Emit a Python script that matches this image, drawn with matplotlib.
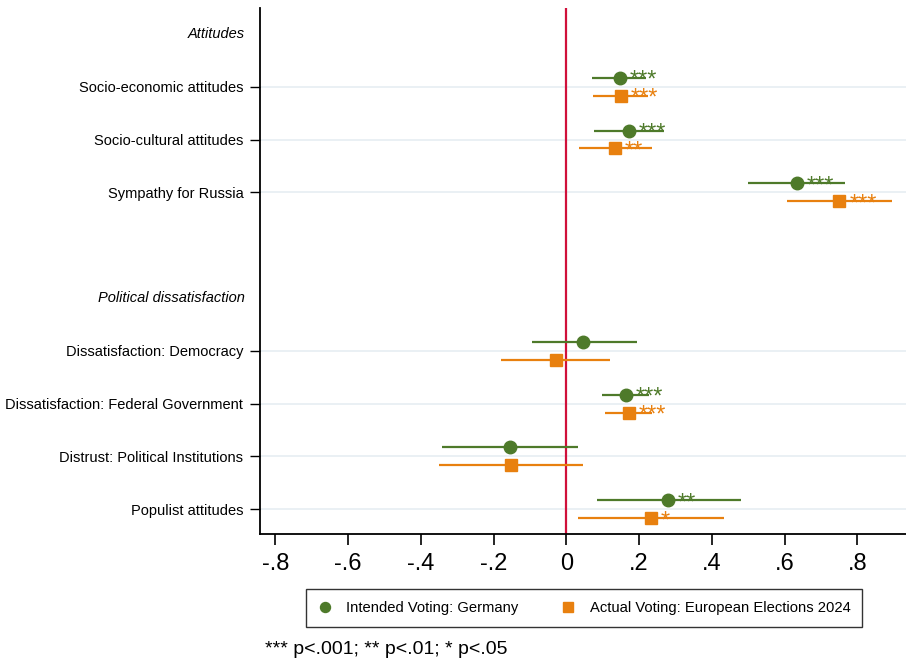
import numpy as np
import matplotlib
matplotlib.use('Agg')
from matplotlib import pyplot as plt

plt.rcParams['font.family'] = ['Liberation Sans', 'DejaVu Sans']

# rows: headers (italic, no tick) and items
rows = ['Attitudes', 'Socio-economic attitudes', 'Socio-cultural attitudes',
        'Sympathy for Russia', '', 'Political dissatisfaction',
        'Dissatisfaction: Democracy', 'Dissatisfaction: Federal Government',
        'Distrust: Political Institutions', 'Populist attitudes']
headers = ['Attitudes', 'Political dissatisfaction']
item_pos = [1, 2, 3, 6, 7, 8, 9]

# Intended voting: Germany
g_coef = [0.148, 0.173, 0.633, 0.047, 0.165, -0.154, 0.280]
g_lo = [0.072, 0.075, 0.500, -0.094, 0.099, -0.341, 0.085]
g_hi = [0.220, 0.270, 0.767, 0.195, 0.228, 0.033, 0.481]
g_sig = ['***', '***', '***', '', '***', '', '**']

# Actual voting: European elections 2024
o_coef = [0.151, 0.135, 0.751, -0.028, 0.173, -0.151, 0.234]
o_lo = [0.074, 0.036, 0.607, -0.180, 0.107, -0.349, 0.033]
o_hi = [0.225, 0.236, 0.896, 0.121, 0.236, 0.047, 0.434]
o_sig = ['***', '**', '***', '', '***', '', '*']

green = '#4e7a2a'
orange = '#e8800f'

fig = plt.figure(figsize=(9.06, 6.61), dpi=100)
ax = fig.add_axes([260 / 906, 1 - 534 / 661, 646 / 906, 526 / 661])

for y in item_pos:
    ax.axhline(y, color='#e6eef2', lw=1.2, zorder=0)
ax.axvline(0, color='#d0103a', lw=1.6, zorder=1)

off = 0.17
yg = np.array(item_pos) - off
yo = np.array(item_pos) + off

ax.hlines(yg, g_lo, g_hi, color=green, lw=1.6, zorder=2)
ax.plot(g_coef, yg, 'o', color=green, ms=9, zorder=3,
        label='Intended Voting: Germany')
ax.hlines(yo, o_lo, o_hi, color=orange, lw=1.6, zorder=2)
ax.plot(o_coef, yo, 's', color=orange, ms=9, zorder=3,
        label='Actual Voting: European Elections 2024')

for x, y, s in zip(g_coef, yg, g_sig):
    if s:
        ax.annotate(s, (x, y), xytext=(7, -6.5), textcoords='offset points',
                    ha='left', va='baseline', color=green, fontsize=17)
for x, y, s in zip(o_coef, yo, o_sig):
    if s:
        ax.annotate(s, (x, y), xytext=(7, -6.5), textcoords='offset points',
                    ha='left', va='baseline', color=orange, fontsize=17)

ax.set_xlim(-0.842, 0.934)
ax.set_ylim(9.47, -0.49)
xt = [-0.8, -0.6, -0.4, -0.2, 0, 0.2, 0.4, 0.6, 0.8]
xtl = ['-.8', '-.6', '-.4', '-.2', '0', '.2', '.4', '.6', '.8']
ax.set_xticks(xt)
ax.set_xticklabels(xtl, fontsize=17)
ax.tick_params(axis='x', length=8, width=1.2, pad=6)
ax.set_yticks(item_pos)
ax.set_yticklabels([rows[i] for i in item_pos], fontsize=10.5)
ax.tick_params(axis='y', length=7, width=1, pad=5)
for name in headers:
    ax.text(-0.023, rows.index(name), name, transform=ax.get_yaxis_transform(),
            ha='right', va='center', fontsize=10.5, style='italic')

for s in ['top', 'right']:
    ax.spines[s].set_visible(False)
ax.spines['left'].set_linewidth(1.3)
ax.spines['bottom'].set_linewidth(1.3)

leg = fig.legend(loc='center', bbox_to_anchor=(584 / 906, 1 - 608 / 661),
                 ncol=2, fontsize=10.6, frameon=True, fancybox=False,
                 edgecolor='black', handlelength=1, columnspacing=2.9,
                 handletextpad=0.95, borderpad=0.8, borderaxespad=0,
                 markerscale=0.8)
leg.get_frame().set_linewidth(1.0)
fig.text(265 / 906, 1 - 649 / 661, '*** p<.001; ** p<.01; * p<.05',
         fontsize=14, ha='left', va='center')

fig.savefig('out.png', dpi=100)
